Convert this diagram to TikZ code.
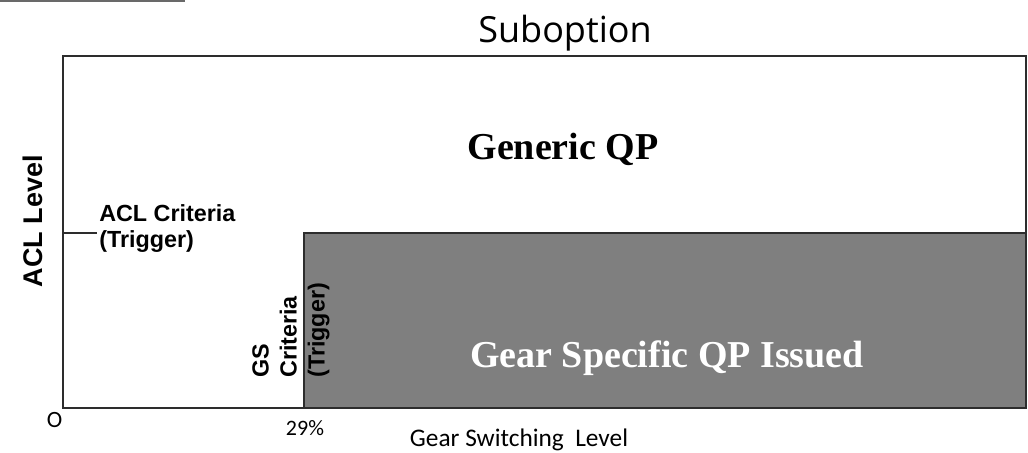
\documentclass[tikz,border=0pt]{standalone}
\usepackage{fontspec}
\newfontfamily\arialfont{Liberation Sans}
\newfontfamily\timesfont{Liberation Serif}
\newfontfamily\calfont{Carlito}
\newfontfamily\headfont{Open Sans}
\definecolor{framegray}{RGB}{45,45,45}
\definecolor{zonegray}{RGB}{127,127,127}
\definecolor{topgray}{RGB}{105,105,105}

\begin{document}
\begin{tikzpicture}[x=0.75pt,y=-0.75pt,
	every node/.style={inner sep=0pt},
	frame line/.style={draw=framegray,line width=1.5pt},
	tick line/.style={draw=framegray,line width=0.9pt},
	qp node/.style={font=\timesfont\bfseries\fontsize{28.5}{34}\selectfont,anchor=base},
	axis node/.style={font=\calfont\fontsize{16.5}{20}\selectfont,anchor=base}
]
	\useasboundingbox (0,0) rectangle (1028,453);

	\coordinate (O) at (63,408);
	\coordinate (T) at (1026,56);
	\coordinate (acl) at (63,233);
	\coordinate (gs) at (304,408);

	\draw[topgray,line width=1.1pt] (0,1) -- (185,1);

	\draw[frame line] (O) rectangle (T);
	\filldraw[frame line,fill=zonegray] (gs) rectangle (T |- acl);

	\node[font=\headfont\fontsize{27}{32}\selectfont,anchor=base] (title) at (565,43) {Suboption};
	\node[qp node] (generic) at (563,159) {Generic QP};
	\node[qp node,text=white] (specific) at (667,367) {Gear Specific QP Issued};

	\node[font=\arialfont\bfseries\fontsize{20.25}{24}\selectfont,rotate=90,anchor=base] (ylabel) at (42,221) {ACL Level};
	\node[font=\arialfont\bfseries\fontsize{17.5}{19.5}\selectfont,align=left,anchor=north west] (acl crit) at (99,204) {ACL Criteria\\(Trigger)};
	\node[font=\arialfont\bfseries\fontsize{17.5}{21}\selectfont,align=left,rotate=90,anchor=north west] (gs crit) at (252,378) {GS\\Criteria\\(Trigger)};
	\draw[tick line,shorten >=1.5pt] (acl) -- (acl -| acl crit.west);

	\node[axis node,font=\calfont\fontsize{17.5}{20}\selectfont] (origin) at (54.5,427) {O};
	\node[axis node] (gs pct) at (305,435) {29\%};
	\node[axis node,font=\calfont\fontsize{19}{23}\selectfont] (xlabel) at (519,446) {Gear Switching~~Level};
\end{tikzpicture}
\end{document}
